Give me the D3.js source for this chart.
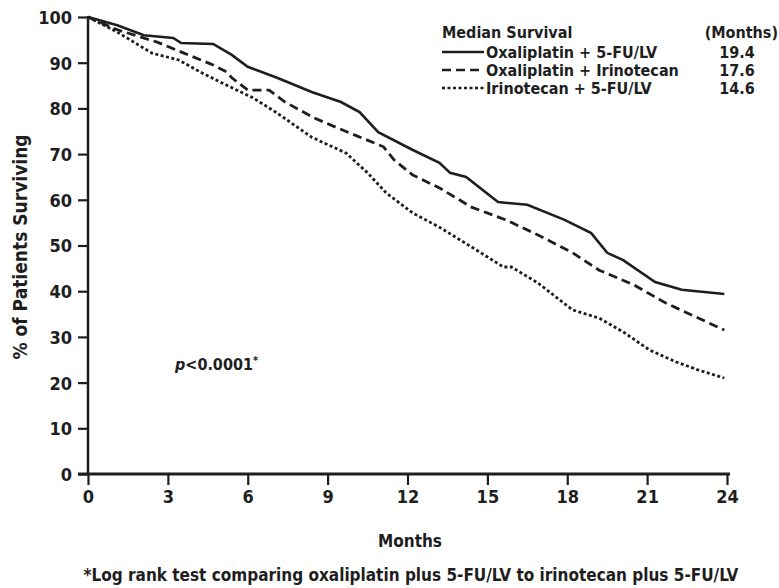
<!DOCTYPE html>
<html>
<head>
<meta charset="utf-8">
<script src="https://cdn.jsdelivr.net/npm/d3@7"></script>
<style>
  body { margin: 0; background: #fff; }
  svg text { font-family: "DejaVu Sans Condensed", "Liberation Sans Narrow", sans-serif; font-weight: bold; fill: #1e1e1e; }
</style>
</head>
<body>
<svg id="chart" width="779" height="588"></svg>
<script>
// months / % surviving
const oxaFu = [
  [0, 100], [1.1, 98.2], [2.1, 96.0], [3.2, 95.4], [3.5, 94.3], [4.7, 94.1], [5.4, 91.7],
  [6.0, 89.1], [7.1, 86.7], [8.4, 83.6], [9.5, 81.4], [10.2, 79.2], [10.9, 74.8],
  [12.2, 70.9], [13.2, 68.1], [13.6, 65.9], [14.2, 65.0], [15.4, 59.5], [16.5, 58.9],
  [17.9, 55.6], [18.9, 52.7], [19.5, 48.4], [20.1, 46.8], [21.3, 42.0], [22.3, 40.3], [23.9, 39.4]
];
const oxaIri = [
  [0, 100], [1.1, 97.2], [2.6, 94.5], [3.6, 92.1], [4.7, 89.5], [5.2, 88.0], [5.4, 86.7],
  [6.0, 84.0], [6.8, 84.0], [7.4, 81.4], [8.5, 77.9], [9.3, 75.9], [10.3, 73.5], [11.1, 71.6],
  [11.5, 68.7], [12.2, 65.4], [13.2, 62.6], [14.4, 58.4], [15.7, 55.6], [16.9, 52.3],
  [18.2, 48.4], [19.2, 44.6], [20.5, 41.4], [21.7, 37.4], [23.9, 31.5]
];
const iriFu = [
  [0, 100], [1.1, 96.7], [2.4, 92.1], [3.4, 90.6], [4.3, 87.7], [5.2, 85.1], [6.2, 82.3],
  [7.1, 79.0], [8.4, 73.7], [9.7, 70.2], [10.5, 65.9], [11.2, 61.5], [12.2, 57.1],
  [13.2, 54.0], [14.4, 49.7], [15.6, 45.3], [15.9, 45.3], [16.9, 41.8], [18.2, 35.9],
  [19.2, 34.1], [20.1, 31.1], [21.1, 27.1], [22.1, 24.5], [22.9, 22.8], [23.9, 21.0]
];

const seriesNames = ["Oxaliplatin + 5-FU/LV", "Oxaliplatin + Irinotecan", "Irinotecan + 5-FU/LV"];
const medians = ["19.4", "17.6", "14.6"];
const xTicks = [0, 3, 6, 9, 12, 15, 18, 21, 24];
const yTicks = [0, 10, 20, 30, 40, 50, 60, 70, 80, 90, 100];

const svg = d3.select("#chart");
const dashes = [null, "9,5", "3,2.5"];

let x = d3.scaleLinear().domain([0, 24]).range([88, 727]);
let y = d3.scaleLinear().domain([0, 100]).range([474, 17]);

// axes
const yAxis = svg.append("g")
    .attr("transform", "translate(88,0)")
    .call(d3.axisLeft(y).tickValues(yTicks).tickSize(10).tickPadding(6));
const xAxis = svg.append("g")
    .attr("transform", "translate(0,474)")
    .call(d3.axisBottom(x).tickValues(xTicks).tickSize(11).tickPadding(5));

[yAxis, xAxis].forEach(a => {
  a.select(".domain").remove();
  a.selectAll(".tick line").attr("stroke", "#1e1e1e").attr("stroke-width", 2.2);
  a.selectAll(".tick text").style("font-size", "18px");
});
yAxis.selectAll(".tick text").attr("dy", "0.36em");

svg.append("line").attr("x1", 88).attr("x2", 88).attr("y1", y(100) - 1).attr("y2", y(0))
    .attr("stroke", "#1e1e1e").attr("stroke-width", 2.5);
svg.append("line").attr("x1", 78).attr("x2", x(24) + 3).attr("y1", y(0)).attr("y2", y(0))
    .attr("stroke", "#1e1e1e").attr("stroke-width", 3);

// curves
const line = d3.line().x(d => x(d[0])).y(d => y(d[1]));
[oxaFu, oxaIri, iriFu].forEach((s, i) => {
  svg.append("path")
      .datum(s)
      .attr("d", line)
      .attr("fill", "none")
      .attr("stroke", "#1e1e1e")
      .attr("stroke-width", i === 0 ? 2.6 : 2.8)
      .attr("stroke-dasharray", dashes[i]);
});

// labels
svg.append("text")
    .attr("transform", "translate(27,247) rotate(-90)")
    .attr("text-anchor", "middle")
    .style("font-size", "19px")
    .text("% of Patients Surviving");
svg.append("text").attr("x", 410).attr("y", 547).attr("text-anchor", "middle")
    .style("font-size", "17px").text("Months");
svg.append("text").attr("x", 411).attr("y", 581).attr("text-anchor", "middle")
    .style("font-size", "17px")
    .text("*Log rank test comparing oxaliplatin plus 5-FU/LV to irinotecan plus 5-FU/LV");

const pv = svg.append("text").attr("x", 175).attr("y", 370).style("font-size", "16px");
pv.append("tspan").style("font-style", "italic").text("p");
pv.append("tspan").text("<0.0001");
pv.append("tspan").attr("dy", -6).style("font-size", "11px").text("*");

// legend
const leg = svg.append("g");
leg.append("text").attr("x", 442).attr("y", 38).style("font-size", "16px").text("Median Survival");
leg.append("text").attr("x", 778).attr("y", 38).attr("text-anchor", "end").style("font-size", "16px").text("(Months)");
seriesNames.forEach((name, i) => {
  const cy = 52 + i * 18;
  leg.append("line").attr("x1", 442).attr("x2", 484).attr("y1", cy).attr("y2", cy)
      .attr("stroke", "#1e1e1e").attr("stroke-width", 2.6).attr("stroke-dasharray", dashes[i]);
  leg.append("text").attr("x", 486).attr("y", cy + 5.5).style("font-size", "16px").text(name);
  leg.append("text").attr("x", 737).attr("y", cy + 5.5).attr("text-anchor", "middle").style("font-size", "16px").text(medians[i]);
});
</script>
</body>
</html>
